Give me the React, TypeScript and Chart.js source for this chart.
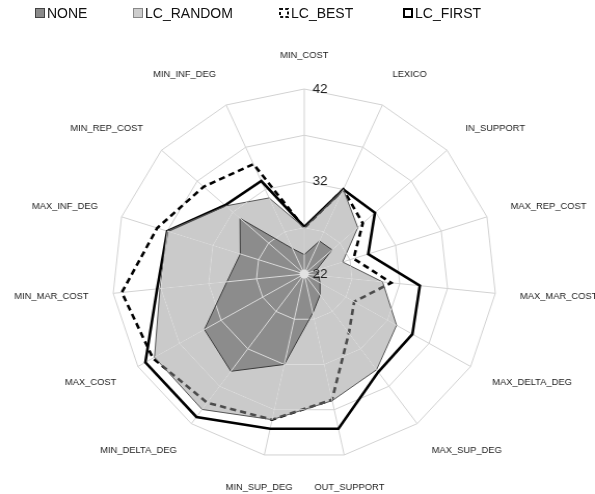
import React, { useEffect, useRef } from 'react';
import { Chart, registerables } from 'chart.js';

Chart.register(...registerables);

const axisLabels = [
  'MIN_COST', 'LEXICO', 'IN_SUPPORT', 'MAX_REP_COST', 'MAX_MAR_COST',
  'MAX_DELTA_DEG', 'MAX_SUP_DEG', 'OUT_SUPPORT', 'MIN_SUP_DEG', 'MIN_DELTA_DEG',
  'MAX_COST', 'MIN_MAR_COST', 'MAX_INF_DEG', 'MIN_REP_COST', 'MIN_INF_DEG',
];

const seriesNames = ['NONE', 'LC_RANDOM', 'LC_BEST', 'LC_FIRST'];

const noneValues = [24.1, 25.9, 25.9, 23.3, 23.5, 23.9, 24.8, 26.3, 32.0, 35.0, 34.0, 30.1, 29.0, 31.0, 25.0];
const lcRandomValues = [27.0, 32.0, 29.5, 26.2, 30.2, 33.1, 34.8, 36.0, 38.1, 40.1, 40.0, 37.1, 37.0, 33.0, 31.0];
const lcBestValues = [27.0, 32.0, 30.2, 27.4, 31.1, 28.0, 29.9, 35.9, 38.1, 39.2, 40.2, 41.1, 38.1, 36.1, 35.0];
const lcFirstValues = [27.1, 32.0, 31.9, 29.0, 34.1, 35.0, 35.1, 39.1, 39.1, 41.1, 41.1, 37.4, 37.0, 33.1, 33.0];

const scaleMin = 22;
const scaleMax = 42;
const scaleStep = 5;
const tickLabels = [22, 32, 42];

const FONT = '"Liberation Sans", Arial, Helvetica, sans-serif';

function polygonPath(ctx: CanvasRenderingContext2D, s: any, values: number[] | number) {
  ctx.beginPath();
  for (let i = 0; i < axisLabels.length; i++) {
    const v = Array.isArray(values) ? values[i] : values;
    const p = s.getPointPositionForValue(i, v);
    if (i === 0) ctx.moveTo(p.x, p.y); else ctx.lineTo(p.x, p.y);
  }
  ctx.closePath();
}

function ringValues(): number[] {
  const out: number[] = [];
  for (let v = scaleMin + scaleStep; v <= scaleMax + 1e-9; v += scaleStep) out.push(v);
  return out;
}

function drawRings(ctx: CanvasRenderingContext2D, s: any, color: string) {
  ctx.save();
  ctx.strokeStyle = color;
  ctx.lineWidth = 1;
  for (const v of ringValues()) {
    polygonPath(ctx, s, v);
    ctx.stroke();
  }
  ctx.restore();
}

function drawSpokes(ctx: CanvasRenderingContext2D, s: any, color: string) {
  ctx.save();
  ctx.strokeStyle = color;
  ctx.lineWidth = 1;
  for (let i = 0; i < axisLabels.length; i++) {
    const p = s.getPointPositionForValue(i, scaleMax);
    ctx.beginPath();
    ctx.moveTo(s.xCenter, s.yCenter);
    ctx.lineTo(p.x, p.y);
    ctx.stroke();
  }
  ctx.restore();
}

const radarDecor = {
  id: 'radarDecor',
  beforeDatasetDraw(chart: any, args: any) {
    const s = chart.scales.r;
    const ctx = chart.ctx as CanvasRenderingContext2D;
    if (args.index === 3) {
      drawRings(ctx, s, '#d2d2d2');
      drawSpokes(ctx, s, '#d2d2d2');
    }
    if (args.index === 0) {
      ctx.save();
      polygonPath(ctx, s, lcRandomValues);
      ctx.clip();
      drawRings(ctx, s, '#dedede');
      ctx.restore();
    }
  },
  afterDatasetsDraw(chart: any) {
    const s = chart.scales.r;
    const ctx = chart.ctx as CanvasRenderingContext2D;
    ctx.save();
    polygonPath(ctx, s, lcRandomValues);
    ctx.clip();
    drawSpokes(ctx, s, '#dcdcdc');
    ctx.restore();
    ctx.save();
    ctx.fillStyle = '#e2e2e2';
    ctx.beginPath();
    ctx.arc(s.xCenter, s.yCenter, 4.5, 0, Math.PI * 2);
    ctx.fill();
    ctx.restore();
  },
  afterDraw(chart: any) {
    const s = chart.scales.r;
    const ctx = chart.ctx as CanvasRenderingContext2D;
    const R = s.drawingArea;
    ctx.save();
    ctx.font = `13px ${FONT}`;
    ctx.fillStyle = '#222';
    ctx.textAlign = 'left';
    ctx.textBaseline = 'middle';
    for (const t of tickLabels) {
      const d = s.getDistanceFromCenterForValue(t);
      ctx.fillText(String(t), s.xCenter + 8, s.yCenter - d);
    }
    ctx.font = `9px ${FONT}`;
    ctx.fillStyle = '#1a1a1a';
    for (let i = 0; i < axisLabels.length; i++) {
      const a = s.getIndexAngle(i);
      const sn = Math.sin(a);
      const cs = Math.cos(a);
      const x = s.xCenter + sn * (R + 24);
      const y = s.yCenter - cs * (R + 33);
      ctx.textAlign = Math.abs(sn) < 0.3 ? 'center' : sn > 0 ? 'left' : 'right';
      ctx.fillText(axisLabels[i], x, y);
    }
    ctx.restore();
  },
};

const legendMarkers: Record<string, { fill: string; stroke: string; width: number; dash?: string }> = {
  NONE: { fill: '#8a8a8a', stroke: '#444', width: 1 },
  LC_RANDOM: { fill: '#cdcdcd', stroke: '#888', width: 1 },
  LC_BEST: { fill: '#fff', stroke: '#111', width: 2, dash: '3 2.2' },
  LC_FIRST: { fill: '#fff', stroke: '#000', width: 2 },
};
const legendLefts = [35, 133, 279, 403];

export default function App() {
  const ref = useRef<HTMLCanvasElement>(null);

  useEffect(() => {
    const canvas = ref.current;
    if (!canvas) return;
    const chart = new Chart(canvas, {
      type: 'radar',
      data: {
        labels: axisLabels,
        datasets: [
          {
            label: seriesNames[0], data: noneValues, fill: true,
            backgroundColor: 'rgba(80,80,80,0.5)', borderColor: '#3a3a3a', borderWidth: 1, pointRadius: 0,
          },
          {
            label: seriesNames[1], data: lcRandomValues, fill: true,
            backgroundColor: 'rgba(150,150,150,0.5)', borderColor: '#555', borderWidth: 1, pointRadius: 0,
          },
          {
            label: seriesNames[2], data: lcBestValues, fill: false,
            borderColor: '#000', borderWidth: 2.6, borderDash: [6, 4], pointRadius: 0,
          },
          {
            label: seriesNames[3], data: lcFirstValues, fill: false,
            borderColor: '#000', borderWidth: 2.6, pointRadius: 0,
          },
        ],
      },
      options: {
        responsive: false,
        animation: false,
        layout: { padding: { left: 108, right: 95, top: 89, bottom: 35 } },
        elements: { line: { tension: 0, borderJoinStyle: 'miter' } },
        plugins: { legend: { display: false }, tooltip: { enabled: false } },
        scales: {
          r: {
            min: scaleMin,
            max: scaleMax,
            ticks: { stepSize: scaleStep, display: false },
            grid: { display: false },
            angleLines: { display: false },
            pointLabels: { display: false },
          },
        },
      } as any,
      plugins: [radarDecor],
    });
    return () => chart.destroy();
  }, []);

  return (
    <div style={{ position: 'absolute', left: 0, top: 0, width: 595, height: 494, background: '#fff', overflow: 'hidden' }}>
      <canvas ref={ref} width={573} height={494} style={{ width: 595, height: 494, display: 'block' }} />
      {seriesNames.map((name, i) => {
        const m = legendMarkers[name];
        const h = m.width / 2;
        return (
          <div key={name} style={{ position: 'absolute', left: legendLefts[i], top: 6, height: 14, display: 'flex', alignItems: 'center', fontFamily: FONT, fontSize: 14, color: '#111', whiteSpace: 'nowrap' }}>
            <svg width={10} height={10} style={{ marginRight: 2, display: 'block' }}>
              <rect x={h} y={h} width={10 - m.width} height={10 - m.width} fill={m.fill} stroke={m.stroke} strokeWidth={m.width} strokeDasharray={m.dash} />
            </svg>
            <span>{name}</span>
          </div>
        );
      })}
    </div>
  );
}
